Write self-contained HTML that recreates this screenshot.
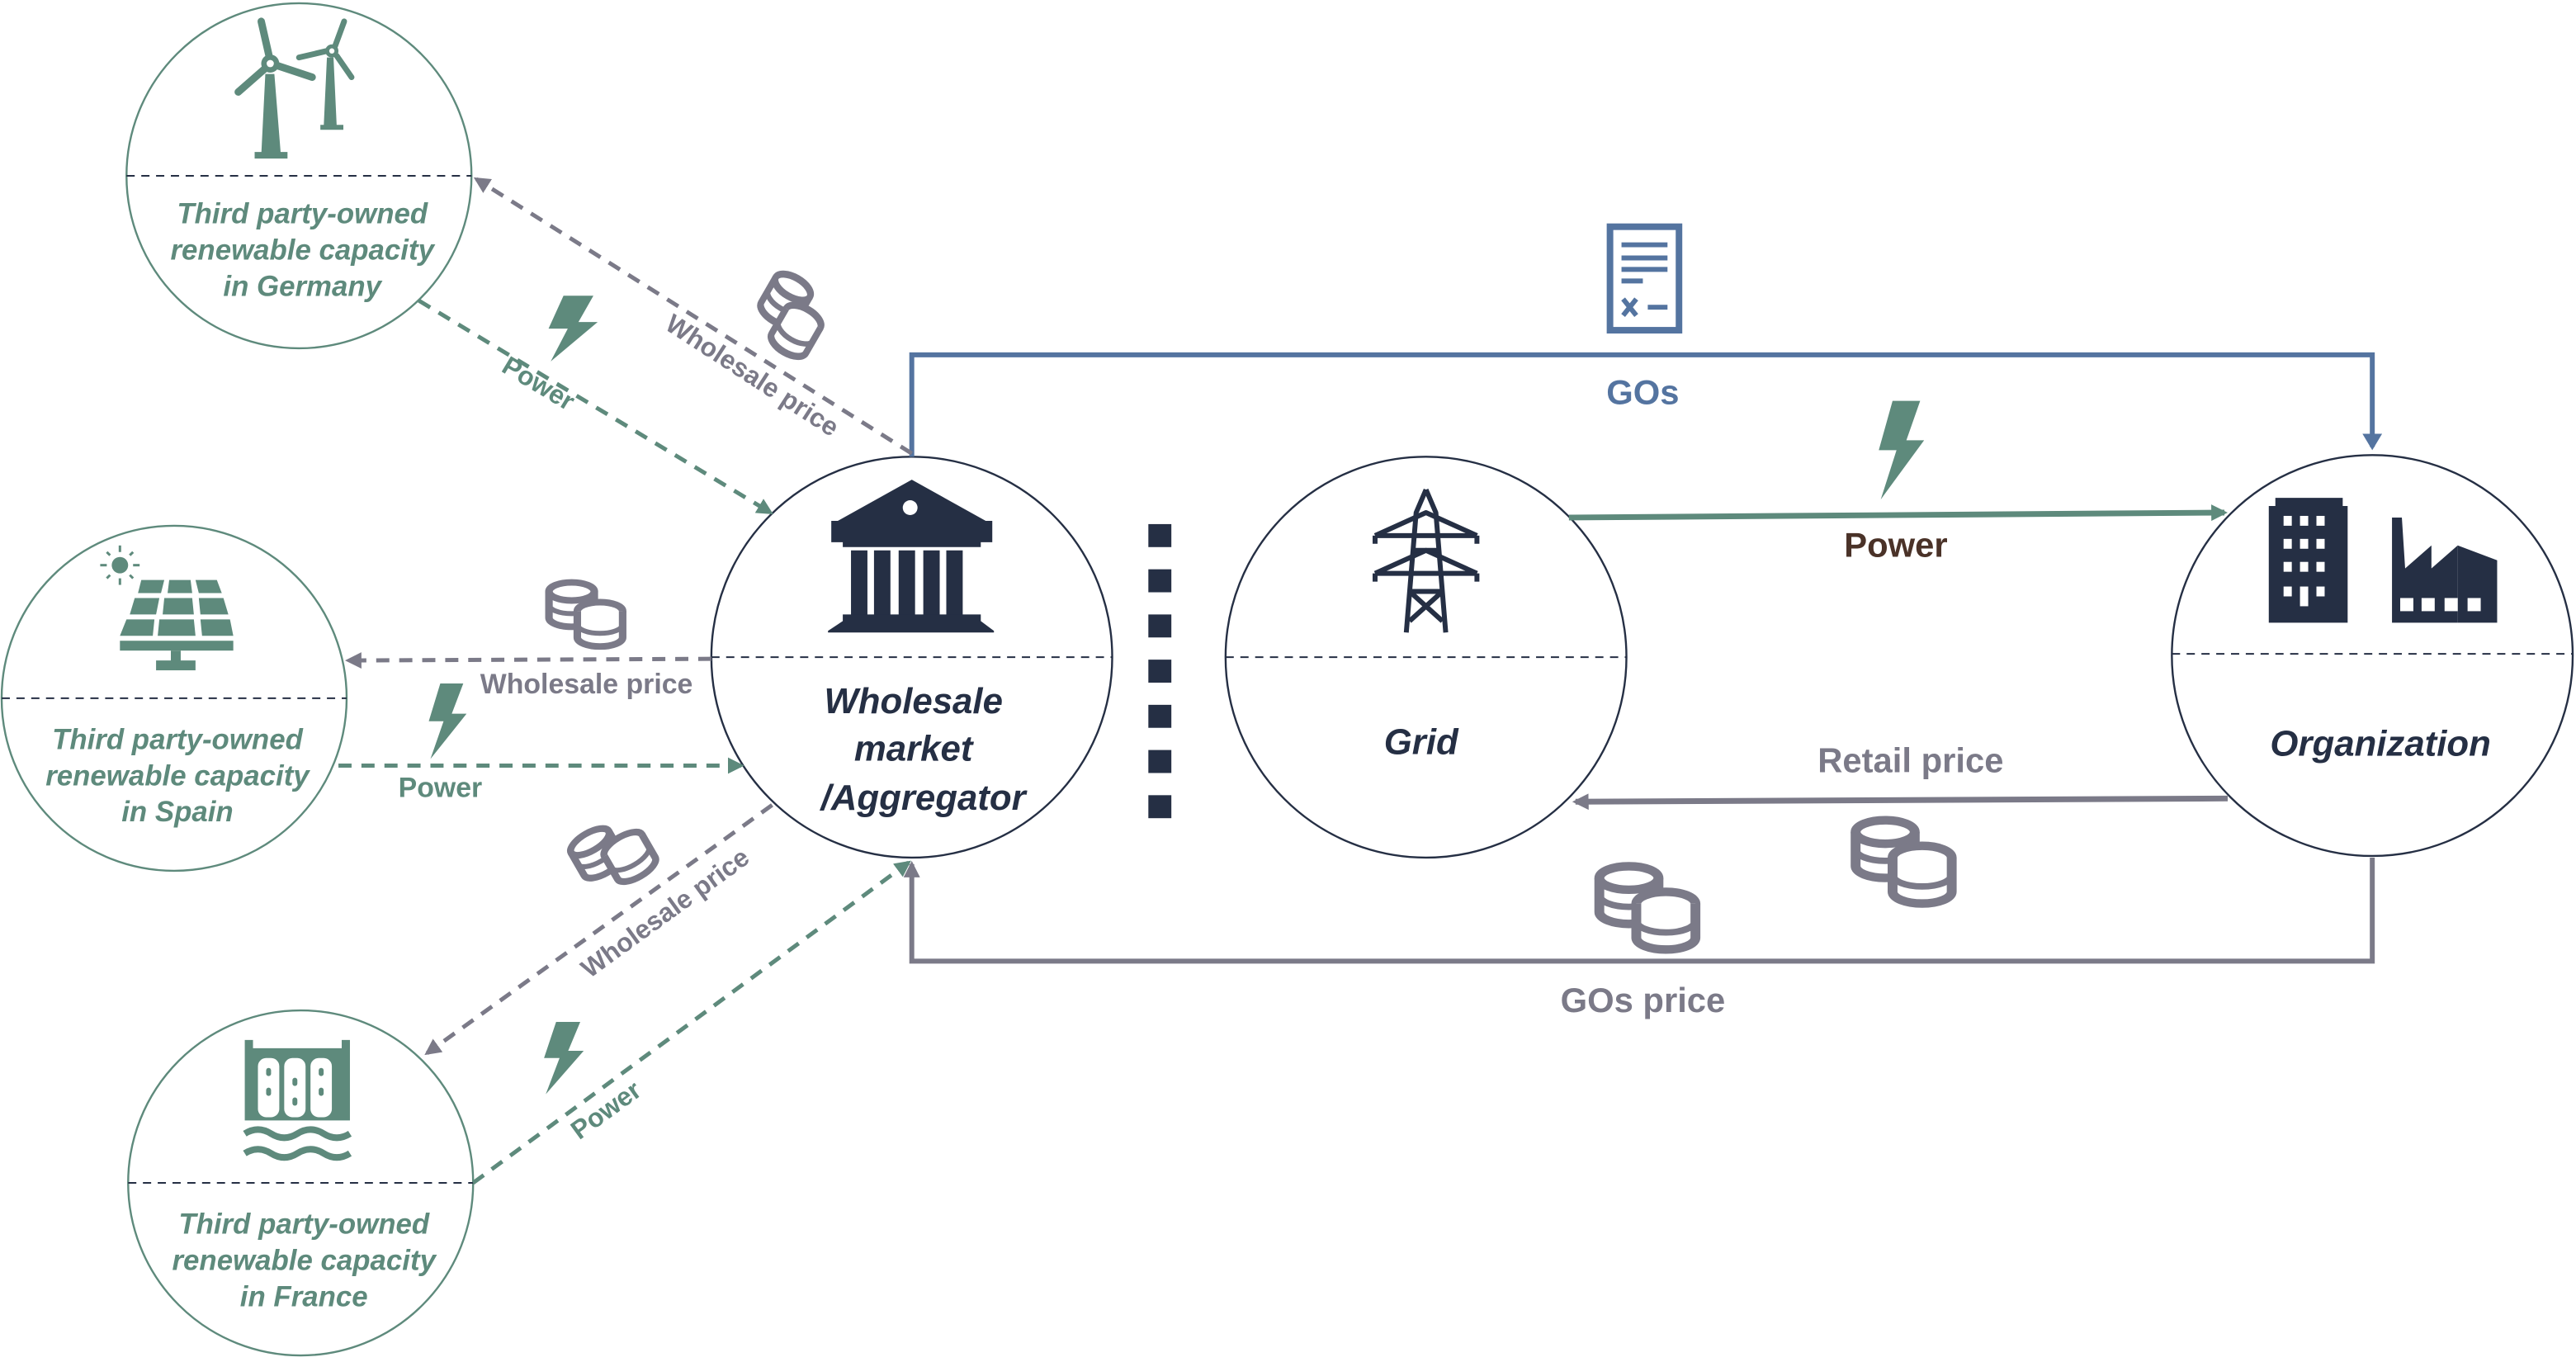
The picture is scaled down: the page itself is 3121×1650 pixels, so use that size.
<!DOCTYPE html>
<html><head><meta charset="utf-8"><style>
html,body{margin:0;padding:0;background:#fff;}
svg{display:block;}
text{font-family:"Liberation Sans",sans-serif;font-weight:bold;}
</style></head><body>
<svg width="3121" height="1650" viewBox="0 0 1568 829" preserveAspectRatio="none" xmlns="http://www.w3.org/2000/svg">
<defs>
<marker id="ag" markerWidth="10" markerHeight="10" refX="8" refY="5" orient="auto" markerUnits="userSpaceOnUse"><path d="M0,0 L10,5 L0,10 Z" fill="#5e8a7c"/></marker>
<marker id="ay" markerWidth="10" markerHeight="10" refX="8" refY="5" orient="auto" markerUnits="userSpaceOnUse"><path d="M0,0 L10,5 L0,10 Z" fill="#7b7a88"/></marker>
<marker id="ab" markerWidth="10" markerHeight="12" refX="8" refY="6" orient="auto" markerUnits="userSpaceOnUse"><path d="M0,0 L10,6 L0,12 Z" fill="#5474a0"/></marker>
<g id="coins" fill="none" stroke="#7b7a88" stroke-width="4">
<ellipse cx="13" cy="8" rx="12" ry="5.5"/>
<path d="M1,8 V24 A12,5.5 0 0 0 25,24 V8" stroke-width="4"/>
<path d="M1,16 A12,5.5 0 0 0 25,16" stroke-width="3"/>
<ellipse cx="28" cy="20" rx="12" ry="5.5" fill="#fff"/>
<path d="M16,20 V36 A12,5.5 0 0 0 40,36 V20" fill="#fff"/>
<path d="M16,28 A12,5.5 0 0 0 40,28" stroke-width="3"/>
</g>
<path id="bolt" d="M10,0 L24,0 L17,16 L26,16 L4,40 L12,20 L3,20 Z" fill="#5e8a7c"/>
</defs>

<g fill="#fff" stroke="#5e8a7c" stroke-width="1.2">
<circle cx="182" cy="107" r="105"/>
<circle cx="106" cy="425" r="105"/>
<circle cx="183" cy="720" r="105"/>
</g>
<g fill="#fff" stroke="#252f44" stroke-width="1.2">
<circle cx="555" cy="400" r="122"/>
<circle cx="868" cy="400" r="122"/>
<circle cx="1444" cy="399" r="122"/>
</g>
<g stroke="#252f44" stroke-width="1" stroke-dasharray="5,4">
<line x1="77" y1="107" x2="287" y2="107"/>
<line x1="1" y1="425" x2="211" y2="425"/>
<line x1="78" y1="720" x2="288" y2="720"/>
<line x1="433" y1="400" x2="677" y2="400"/>
<line x1="746" y1="400" x2="990" y2="400"/>
<line x1="1322" y1="398" x2="1566" y2="398"/>
</g>

<g fill="#5e8a7c" font-size="17.5" font-style="italic" text-anchor="middle">
<text x="184" y="136">Third party-owned</text>
<text x="184" y="158">renewable capacity</text>
<text x="184" y="180">in Germany</text>
<text x="108" y="456">Third party-owned</text>
<text x="108" y="478">renewable capacity</text>
<text x="108" y="500">in Spain</text>
<text x="185" y="751">Third party-owned</text>
<text x="185" y="773">renewable capacity</text>
<text x="185" y="795">in France</text>
</g>
<g fill="#252f44" font-size="22" font-style="italic" text-anchor="middle">
<text x="556" y="434">Wholesale</text>
<text x="556" y="463">market</text>
<text x="562" y="493">/Aggregator</text>
<text x="865" y="459">Grid</text>
<text x="1449" y="460">Organization</text>
</g>

<g fill="#252f44">
<rect x="699" y="319" width="14" height="14"/><rect x="699" y="346.5" width="14" height="14"/>
<rect x="699" y="374" width="14" height="14"/><rect x="699" y="401.5" width="14" height="14"/>
<rect x="699" y="429" width="14" height="14"/><rect x="699" y="456.5" width="14" height="14"/>
<rect x="699" y="484" width="14" height="14"/>
</g>

<path d="M555,278 V216 H1444 V272" fill="none" stroke="#5474a0" stroke-width="3" marker-end="url(#ab)"/>
<text x="1000" y="246" fill="#5474a0" font-size="21" text-anchor="middle">GOs</text>
<g>
<rect x="980" y="138" width="42" height="63" fill="#fff" stroke="#5474a0" stroke-width="4"/>
<g stroke="#5474a0" stroke-width="3"><line x1="987" y1="149" x2="1015" y2="149"/><line x1="987" y1="157" x2="1015" y2="157"/><line x1="987" y1="164" x2="1015" y2="164"/><line x1="987" y1="171" x2="1000" y2="171"/><line x1="1003" y1="187" x2="1015" y2="187"/><line x1="988" y1="182" x2="996" y2="192"/><line x1="996" y1="182" x2="988" y2="192"/></g>
</g>

<line x1="955" y1="315" x2="1354" y2="312" stroke="#5e8a7c" stroke-width="3.5" marker-end="url(#ag)"/>
<use href="#bolt" transform="translate(1140,244) scale(1.2,1.5)"/>
<text x="1154" y="339" fill="#4a3228" font-size="21" text-anchor="middle">Power</text>

<line x1="1356" y1="486" x2="959" y2="488" stroke="#7b7a88" stroke-width="3.5" marker-end="url(#ay)"/>
<text x="1163" y="470" fill="#7b7a88" font-size="21" text-anchor="middle">Retail price</text>
<use href="#coins" transform="translate(1128,496) scale(1.5,1.3)"/>

<path d="M1444,522 V585 H555 V526" fill="none" stroke="#7b7a88" stroke-width="3" marker-end="url(#ay)"/>
<use href="#coins" transform="translate(972,524) scale(1.5,1.3)"/>
<text x="1000" y="616" fill="#7b7a88" font-size="21" text-anchor="middle">GOs price</text>

<line x1="555" y1="276" x2="290" y2="109" stroke="#7b7a88" stroke-width="2.5" stroke-dasharray="8,6" marker-end="url(#ay)"/>
<line x1="255" y1="183" x2="469" y2="312" stroke="#5e8a7c" stroke-width="2.5" stroke-dasharray="8,6" marker-end="url(#ag)"/>
<use href="#bolt" transform="translate(330,180) scale(1.3,1)"/>
<text transform="translate(325,238) rotate(31)" fill="#5e8a7c" font-size="16" text-anchor="middle">Power</text>
<text transform="translate(455,233) rotate(33)" fill="#7b7a88" font-size="16" text-anchor="middle">Wholesale price</text>
<use href="#coins" transform="translate(463,168) rotate(30 20 20) scale(1.0,1.1)"/>

<line x1="433" y1="401" x2="212" y2="402" stroke="#7b7a88" stroke-width="2.5" stroke-dasharray="8,6" marker-end="url(#ay)"/>
<text x="357" y="422" fill="#7b7a88" font-size="17" text-anchor="middle">Wholesale price</text>
<use href="#coins" transform="translate(333,352) scale(1.15,1)"/>
<line x1="206" y1="466" x2="451" y2="466" stroke="#5e8a7c" stroke-width="2.5" stroke-dasharray="8,6" marker-end="url(#ag)"/>
<use href="#bolt" transform="translate(258,416) scale(1,1.15)"/>
<text x="268" y="485" fill="#5e8a7c" font-size="17" text-anchor="middle">Power</text>

<line x1="470" y1="490" x2="260" y2="641" stroke="#7b7a88" stroke-width="2.5" stroke-dasharray="8,6" marker-end="url(#ay)"/>
<line x1="288" y1="720" x2="553" y2="525" stroke="#5e8a7c" stroke-width="2.5" stroke-dasharray="8,6" marker-end="url(#ag)"/>
<text transform="translate(408,560) rotate(-36)" fill="#7b7a88" font-size="16" text-anchor="middle">Wholesale price</text>
<text transform="translate(372,680) rotate(-36)" fill="#5e8a7c" font-size="16" text-anchor="middle">Power</text>
<use href="#coins" transform="translate(350,500) rotate(-30 20 20) scale(1.1,1)"/>
<use href="#bolt" transform="translate(328,622) scale(1.05,1.1)"/>

<!-- Wind turbines -->
<g fill="#5e8a7c">
<path d="M159,95 L161.5,45 L167,45 L171,95 Z"/><rect x="155" y="92.5" width="20" height="4"/>
<g stroke="#5e8a7c" stroke-linecap="round" fill="none">
<path d="M164,35 L159,13" stroke-width="4.5"/>
<path d="M169,40 L190,47" stroke-width="4.5"/>
<path d="M161,42 L145,56" stroke-width="4.5"/>
</g>
<circle cx="164.5" cy="38.7" r="5.5"/><circle cx="164.5" cy="38.7" r="2.2" fill="#fff"/>
<path d="M197,78 L199,35 L203,35 L205,78 Z"/><rect x="195" y="76" width="14" height="3"/>
<g stroke="#5e8a7c" stroke-linecap="round" fill="none">
<path d="M204,28 L209.5,13" stroke-width="3.5"/>
<path d="M205,34 L214,47" stroke-width="3.5"/>
<path d="M199,31 L182,35" stroke-width="3.5"/>
</g>
<circle cx="202" cy="31" r="4"/><circle cx="202" cy="31" r="1.6" fill="#fff"/>
</g>
<!-- Solar -->
<g fill="#5e8a7c">
<circle cx="73" cy="344" r="5"/>
<g stroke="#5e8a7c" stroke-width="1.5"><line x1="73" y1="332" x2="73" y2="336"/><line x1="73" y1="352" x2="73" y2="356"/><line x1="61" y1="344" x2="65" y2="344"/><line x1="81" y1="344" x2="85" y2="344"/><line x1="65" y1="336" x2="67" y2="338"/><line x1="79" y1="350" x2="81" y2="352"/><line x1="81" y1="336" x2="79" y2="338"/><line x1="65" y1="352" x2="67" y2="350"/></g>
<path d="M86,353 H100 L98,361 H84 Z"/><path d="M103,353 H116 L117,361 H102 Z"/><path d="M119,353 H132 L135,361 H121 Z"/>
<path d="M82,364 H97 L95,374 H79 Z"/><path d="M100,364 H117 L118,374 H99 Z"/><path d="M121,364 H136 L139,374 H122 Z"/>
<path d="M77,377 H94 L93,387 H73 Z"/><path d="M97,377 H118 L119,387 H96 Z"/><path d="M122,377 H140 L142,387 H123 Z"/>
<rect x="73" y="390" width="69" height="6"/><rect x="104" y="396" width="6" height="8"/><rect x="95" y="402" width="24" height="6"/>
</g>
<!-- Dam -->
<g fill="#5e8a7c">
<path d="M149,633 H154 V638 H208 V633 H213 V682 H149 Z"/>
<g fill="#fff"><rect x="157" y="644" width="13" height="36" rx="5"/><rect x="173" y="644" width="13" height="36" rx="5"/><rect x="189" y="644" width="13" height="36" rx="5"/></g>
<g fill="#5e8a7c"><rect x="162" y="650" width="3" height="5" rx="1.5"/><rect x="162" y="662" width="3" height="5" rx="1.5"/><rect x="178" y="656" width="3" height="5" rx="1.5"/><rect x="178" y="668" width="3" height="5" rx="1.5"/><rect x="194" y="650" width="3" height="5" rx="1.5"/><rect x="194" y="662" width="3" height="5" rx="1.5"/></g>
</g>
<g fill="none" stroke="#5e8a7c" stroke-width="4">
<path d="M149,690 Q157,685 165,690 T181,690 T197,690 T213,690"/>
<path d="M149,702 Q157,697 165,702 T181,702 T197,702 T213,702"/>
</g>
<!-- Bank -->
<g fill="#252f44">
<path d="M555,292 L600,317 H604 V330 H597 V333 H513 V330 H506 V317 H510 Z"/>
<circle cx="554" cy="309" r="4.5" fill="#fff"/>
<rect x="518" y="335" width="10" height="40"/><rect x="532" y="335" width="10" height="40"/><rect x="547" y="335" width="10" height="40"/><rect x="562" y="335" width="10" height="40"/><rect x="576" y="335" width="10" height="40"/>
<path d="M513,374 H597 V378 L605,384 V385 H504 V384 L513,378 Z"/>
</g>
<!-- Tower -->
<g fill="none" stroke="#252f44" stroke-width="3" stroke-linejoin="round">
<path d="M868,298 L862,312 L856,385 M868,298 L874,312 L880,385"/>
<path d="M837,326 L868,312 L899,326 M837,326 H899 M837,326 V331 M899,326 V331"/>
<path d="M837,349 L868,335 L899,349 M837,349 H899 M837,349 V354 M899,349 V354"/>
<path d="M860,335 H876 M858,360 L878,378 M878,360 L858,378 M858,360 H878"/>
</g>
<!-- Buildings -->
<g fill="#252f44">
<path d="M1385,303 H1426 V308 H1429 V379 H1381 V308 H1385 Z"/>
<g fill="#fff">
<rect x="1390" y="314" width="5" height="6"/><rect x="1400" y="314" width="5" height="6"/><rect x="1410" y="314" width="5" height="6"/>
<rect x="1390" y="328" width="5" height="6"/><rect x="1400" y="328" width="5" height="6"/><rect x="1410" y="328" width="5" height="6"/>
<rect x="1390" y="342" width="5" height="6"/><rect x="1400" y="342" width="5" height="6"/><rect x="1410" y="342" width="5" height="6"/>
<rect x="1390" y="357" width="5" height="6"/><rect x="1400" y="357" width="5" height="12"/><rect x="1410" y="357" width="5" height="6"/>
</g>
<path d="M1456,315 H1462 L1464,346 L1480,332 V346 L1496,332 V379 H1456 Z"/>
<path d="M1496,332 L1520,341 V379 H1496 Z"/>
<g fill="#fff"><rect x="1461" y="364" width="8" height="8"/><rect x="1474" y="364" width="8" height="8"/><rect x="1488" y="364" width="8" height="8"/><rect x="1502" y="364" width="8" height="8"/></g>
</g>
</svg>
</body></html>
